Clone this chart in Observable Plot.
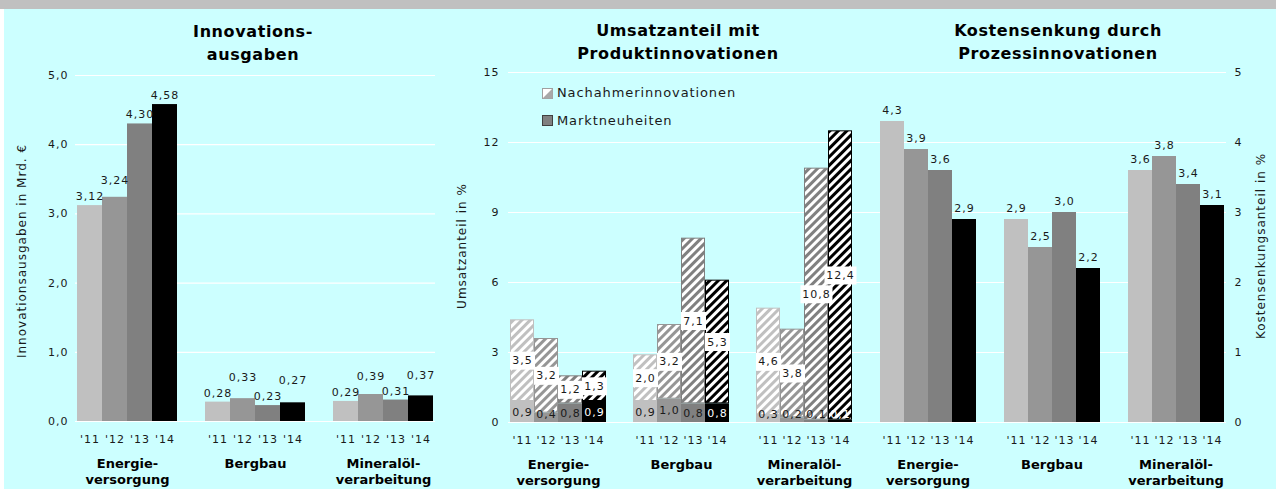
<!DOCTYPE html>
<html><head><meta charset="utf-8">
<script src="https://cdn.jsdelivr.net/npm/d3@7"></script>
<script src="https://cdn.jsdelivr.net/npm/@observablehq/plot@0.6"></script>
<style>
body{margin:0;background:#fff}
#wrap{position:relative;width:1276px;height:489px;background:#ccffff;overflow:hidden;font-family:"DejaVu Sans",Verdana,sans-serif;color:#1a1a1a}
#band{position:absolute;left:0;top:0;width:1276px;height:9px;background:#c0c0c0}
#edge{position:absolute;left:0;top:9px;width:4px;height:480px;background:#ffffff}
#wrap svg text{letter-spacing:1px}
#wrap svg g[font-weight="bold"] text{letter-spacing:0px}
.title{position:absolute;width:400px;margin-left:-200px;font-weight:bold;font-size:16px;letter-spacing:0.6px;text-align:center;line-height:23px;color:#000;white-space:pre}
.ylab{position:absolute;font-size:12px;letter-spacing:1px;white-space:nowrap;transform:translate(-50%,-50%) rotate(-90deg);color:#1a1a1a}
.leg{position:absolute;font-size:13px;letter-spacing:0.9px;white-space:nowrap;color:#1a1a1a;line-height:14px;display:flex;align-items:center}
.leg svg{margin-right:4px}
</style></head><body>
<div id="wrap"><div id="band"></div><div id="edge"></div></div>
<script>
// ---- data ----
const sectors = ["Energieversorgung", "Bergbau", "Mineralölverarbeitung"];
const sectorLabels = ["Energie-\nversorgung", "Bergbau", "Mineralöl-\nverarbeitung"];
const years = ["'11", "'12", "'13", "'14"];
const yearColors = ["#c0c0c0", "#969696", "#808080", "#000000"];
const ausgaben = [[3.12, 3.24, 4.30, 4.58], [0.28, 0.33, 0.23, 0.27], [0.29, 0.39, 0.31, 0.37]];
const marktneuheiten = [[0.9, 0.4, 0.8, 0.9], [0.9, 1.0, 0.8, 0.8], [0.3, 0.2, 0.1, 0.1]];
const nachahmer = [[3.5, 3.2, 1.2, 1.3], [2.0, 3.2, 7.1, 5.3], [4.6, 3.8, 10.8, 12.4]];
const kosten = [[4.3, 3.9, 3.6, 2.9], [2.9, 2.5, 3.0, 2.2], [3.6, 3.8, 3.4, 3.1]];
const ticksA = [0, 1, 2, 3, 4, 5];
const ticksU = [0, 3, 6, 9, 12, 15];
const ticksK = [0, 1, 2, 3, 4, 5];
const titles = ["Innovations-\nausgaben", "Umsatzanteil mit\nProduktinnovationen", "Kostensenkung durch\nProzessinnovationen"];
const axisTitles = ["Innovationsausgaben in Mrd. €", "Umsatzanteil in %", "Kostensenkungsanteil in %"];
const legendLabels = ["Nachahmerinnovationen", "Marktneuheiten"];

// ---- helpers ----
const wrap = document.getElementById("wrap");
const FONT = "'DejaVu Sans', Verdana, sans-serif";
const baseStyle = {background: "transparent", fontFamily: FONT, fontSize: "11px", color: "#1a1a1a", overflow: "visible"};
const fmt = (v, d) => v.toFixed(d).replace(".", ",");
function place(node, left) {
  node.style.position = "absolute"; node.style.left = left + "px"; node.style.top = "0px";
  wrap.appendChild(node);
}
const sectorRows = sectors.map((s, i) => ({sector: s, label: sectorLabels[i]}));

// label placement above bars (simple overlap avoidance between neighbouring labels)
function placeLabels(rows, yScale, gap, minSep, bump) {
  sectors.forEach(s => {
    let prev = null;
    rows.filter(r => r.sector === s).forEach(r => {
      let py = yScale(r.value) - gap;
      r.bumped = false;
      if (prev && !prev.bumped && Math.abs(py - prev.py) < minSep) { py = prev.py - bump; r.bumped = true; }
      r.py = py; r.labelY = yScale.invert(py); prev = r;
    });
  });
}

const rowsA = [], rowsU = [], rowsK = [];
sectors.forEach((s, i) => years.forEach((y, j) => {
  rowsA.push({sector: s, year: y, value: ausgaben[i][j]});
  rowsK.push({sector: s, year: y, value: kosten[i][j]});
  const m = marktneuheiten[i][j], n = nachahmer[i][j];
  rowsU.push({sector: s, year: y, j, m, n, top: m + n, nMid: m + n / 2, mMid: Math.max(m / 2, 0.35)});
}));

// geometry
const H = 489;
const A = {left: 0, width: 440, ml: 75, mr: 5, mt: 75, mb: 68};
const U = {left: 440, width: 428, ml: 68, mr: 13, mt: 72, mb: 67};
const K = {left: 868, width: 408, ml: 10, mr: 50, mt: 72, mb: 67};

placeLabels(rowsA, d3.scaleLinear([0, 5], [H - A.mb, A.mt]), 9, 13, 16);
placeLabels(rowsK, d3.scaleLinear([0, 5], [H - K.mb, K.mt]), 11, 13, 16);

// hatch patterns
const defsSvg = d3.select(wrap).append("svg").attr("width", 1).attr("height", 1).style("position", "absolute").style("left", "0px").style("top", "0px");
const defs = defsSvg.append("defs");
yearColors.forEach((c, j) => {
  const p = defs.append("pattern").attr("id", "hatch" + j).attr("patternUnits", "userSpaceOnUse")
    .attr("width", 6).attr("height", 6).attr("patternTransform", "rotate(45)");
  p.append("rect").attr("width", 6).attr("height", 6).attr("fill", "white");
  p.append("rect").attr("width", 3).attr("height", 6).attr("fill", c);
});

// ---- grid underlays ----
place(Plot.plot({
  width: A.width, height: H, marginLeft: A.ml, marginRight: A.mr, marginTop: A.mt, marginBottom: A.mb,
  style: baseStyle, y: {domain: [0, 5], label: null},
  marks: [
    Plot.ruleY(ticksA, {stroke: "white", strokeWidth: 1.2}),
    Plot.axisY(ticksA, {tickSize: 0, tickPadding: 7, tickFormat: d => fmt(d, 1), fontSize: 11, label: null, fill: "#1a1a1a"})
  ]
}), A.left);

place(Plot.plot({
  width: 1276 - U.left, height: H, marginLeft: U.ml, marginRight: K.mr, marginTop: U.mt, marginBottom: U.mb,
  style: baseStyle, y: {domain: [0, 15], label: null},
  marks: [
    Plot.ruleY(ticksU, {stroke: "white", strokeWidth: 1.2}),
    Plot.axisY(ticksU, {tickSize: 0, tickPadding: 9, tickFormat: d => String(d), fontSize: 11, label: null, fill: "#1a1a1a"})
  ]
}), U.left);

const sectorText = Plot.text(sectorRows, {fx: "sector", text: "label", frameAnchor: "bottom", lineAnchor: "top", dy: 35, lineHeight: 1.24, fontSize: 13, fontWeight: "bold", fill: "#000"});
const fxOpt = {domain: sectors, paddingInner: 0.2, paddingOuter: 0, axis: null, label: null};
const xOpt = {domain: years, padding: 0, label: null};
const xAxis = () => Plot.axisX({tickSize: 0, tickPadding: 14, fontSize: 11, label: null, fill: "#1a1a1a"});

// ---- Innovationsausgaben ----
place(Plot.plot({
  width: A.width, height: H, marginLeft: A.ml, marginRight: A.mr, marginTop: A.mt, marginBottom: A.mb,
  style: baseStyle, fx: fxOpt, x: xOpt, y: {domain: [0, 5], axis: null},
  color: {domain: years, range: yearColors},
  marks: [
    Plot.barY(rowsA, {fx: "sector", x: "year", y: "value", fill: "year"}),
    Plot.text(rowsA, {fx: "sector", x: "year", y: "labelY", text: d => fmt(d.value, 2), fontSize: 11, fill: "#1a1a1a"}),
    xAxis(), sectorText
  ]
}), A.left);

// ---- Umsatzanteil (stacked, hatched) ----
const uMarks = [
  Plot.barY(rowsU, {fx: "sector", x: "year", y1: 0, y2: "m", fill: "year"})
];
years.forEach((yr, j) => {
  uMarks.push(Plot.barY(rowsU.filter(d => d.j === j), {fx: "sector", x: "year", y1: "m", y2: "top",
    fill: `url(#hatch${j})`, stroke: yearColors[j], strokeWidth: 1, inset: 0.5}));
});
const boxSym = w => ({draw(ctx) { ctx.rect(-w / 2, -9, w, 18); }});
const nLabels = rowsU.map(d => ({...d, txt: fmt(d.n, 1)}));
uMarks.push(
  Plot.dot(nLabels.filter(d => d.txt.length <= 3), {fx: "sector", x: "year", y: "nMid", symbol: boxSym(25), fill: "white", stroke: "none"}),
  Plot.dot(nLabels.filter(d => d.txt.length > 3), {fx: "sector", x: "year", y: "nMid", symbol: boxSym(32), fill: "white", stroke: "none"}),
  Plot.text(nLabels, {fx: "sector", x: "year", y: "nMid", text: "txt", fontSize: 11, fill: "#1a1a1a"}),
  Plot.text(rowsU.filter(d => d.j !== 3), {fx: "sector", x: "year", y: "mMid", text: d => fmt(d.m, 1), fontSize: 11, fill: "#1a1a1a"}),
  Plot.text(rowsU.filter(d => d.j === 3), {fx: "sector", x: "year", y: "mMid", text: d => fmt(d.m, 1), fontSize: 11, fill: "white"}),
  xAxis(), sectorText
);
place(Plot.plot({
  width: U.width, height: H, marginLeft: U.ml, marginRight: U.mr, marginTop: U.mt, marginBottom: U.mb,
  style: baseStyle, fx: fxOpt, x: xOpt, y: {domain: [0, 15], axis: null},
  color: {domain: years, range: yearColors},
  marks: uMarks
}), U.left);

// ---- Kostensenkung ----
place(Plot.plot({
  width: K.width, height: H, marginLeft: K.ml, marginRight: K.mr, marginTop: K.mt, marginBottom: K.mb,
  style: baseStyle, fx: fxOpt, x: xOpt, y: {domain: [0, 5], label: null},
  color: {domain: years, range: yearColors},
  marks: [
    Plot.barY(rowsK, {fx: "sector", x: "year", y: "value", fill: "year"}),
    Plot.text(rowsK, {fx: "sector", x: "year", y: "labelY", text: d => fmt(d.value, 1), fontSize: 11, fill: "#1a1a1a"}),
    Plot.axisY(ticksK, {anchor: "right", tickSize: 0, tickPadding: 9, tickFormat: d => String(d), fontSize: 11, label: null, fill: "#1a1a1a"}),
    xAxis(), sectorText
  ]
}), K.left);

// ---- titles, axis titles, legend ----
const titlePos = [[253, 20], [678, 19], [1058, 19]];
titles.forEach((t, i) => {
  const d = document.createElement("div");
  d.className = "title"; d.textContent = t;
  d.style.left = titlePos[i][0] + "px"; d.style.top = titlePos[i][1] + "px";
  wrap.appendChild(d);
});
const axPos = [[22, 251], [462, 246], [1261, 246]];
axisTitles.forEach((t, i) => {
  const d = document.createElement("div");
  d.className = "ylab"; d.textContent = t;
  d.style.left = axPos[i][0] + "px"; d.style.top = axPos[i][1] + "px";
  wrap.appendChild(d);
});
legendLabels.forEach((t, i) => {
  const d = document.createElement("div");
  d.className = "leg";
  d.style.left = "542px"; d.style.top = (86 + i * 27.5) + "px";
  const sw = i === 0
    ? '<svg width="11" height="11"><rect x="0.5" y="0.5" width="10" height="10" fill="#ffffff" stroke="#a0a0a0"/><polygon points="10.5,0.5 10.5,10.5 0.5,10.5" fill="#a8a8a8"/></svg>'
    : '<svg width="11" height="11"><rect x="0.5" y="0.5" width="10" height="10" fill="#808080" stroke="#404040"/></svg>';
  d.innerHTML = sw + "<span></span>";
  d.querySelector("span").textContent = t;
  wrap.appendChild(d);
});
</script>
</body></html>
